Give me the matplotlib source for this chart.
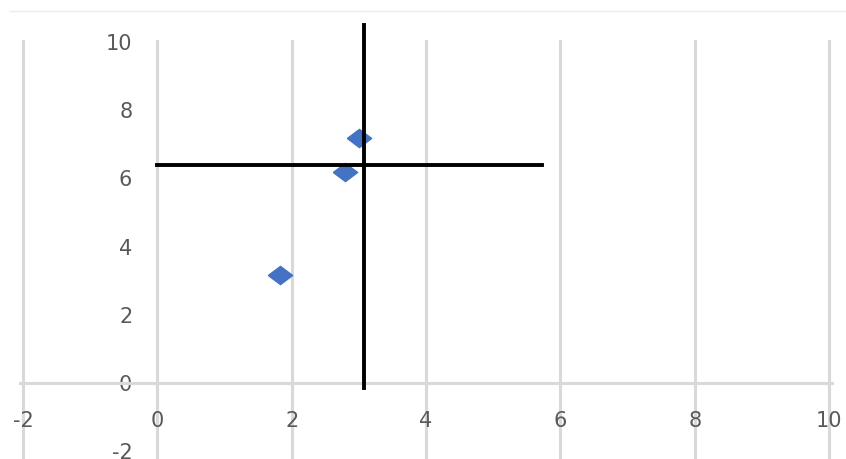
import matplotlib
matplotlib.use('Agg')
import matplotlib.pyplot as plt
from matplotlib.lines import Line2D

plt.rcParams['axes.unicode_minus'] = False

# scatter points
x_vals = [1.82, 2.80, 3.01]
y_vals = [3.18, 6.18, 7.18]

# crosshair lines
vline_x = 3.07
vline_y = (-0.15, 10.5)
hline_y = 6.4
hline_x = (0.0, 5.72)

x_ticks = [-2, 0, 2, 4, 6, 8, 10]
y_ticks = [-2, 0, 2, 4, 6, 8, 10]

W, H = 846, 459
fig = plt.figure(figsize=(W / 100, H / 100), dpi=100)
ax = fig.add_axes([19.6 / W, 0.0, 812.8 / W, 1 - 40 / H])
ax.set_xlim(-2.05, 10.05)
ax.set_ylim(-2.23, 10.06)

grid_color = '#d9d9d9'
text_color = '#595959'

ax.set_xticks(x_ticks)
ax.set_yticks(y_ticks)
ax.xaxis.grid(True, color=grid_color, linewidth=2.2)
ax.yaxis.grid(False)
ax.set_axisbelow(True)

for side in ('top', 'right', 'left'):
    ax.spines[side].set_visible(False)
ax.spines['bottom'].set_position(('data', 0))
ax.spines['bottom'].set_color(grid_color)
ax.spines['bottom'].set_linewidth(2.2)
ax.spines['left'].set_position(('data', 0))

ax.tick_params(axis='x', length=0, pad=20, labelsize=15, labelcolor=text_color)
ax.tick_params(axis='y', length=0, pad=18, labelsize=15, labelcolor=text_color)

diamond = [(-1, 0), (0, 0.75), (1, 0), (0, -0.75), (-1, 0)]
ax.plot(x_vals, y_vals, linestyle='none', marker=diamond, markersize=17.5,
        color='#4472c4', zorder=3)

ax.plot([vline_x, vline_x], vline_y, color='black', linewidth=2.8,
        clip_on=False, zorder=4)
ax.plot(hline_x, [hline_y, hline_y], color='black', linewidth=2.8,
        clip_on=False, zorder=4)

# faint chart-area border at the top
fig.add_artist(Line2D([10 / W, 1.0], [1 - 11 / H, 1 - 11 / H],
                      color='#ececec', linewidth=1))

fig.savefig('out.png', dpi=100)
